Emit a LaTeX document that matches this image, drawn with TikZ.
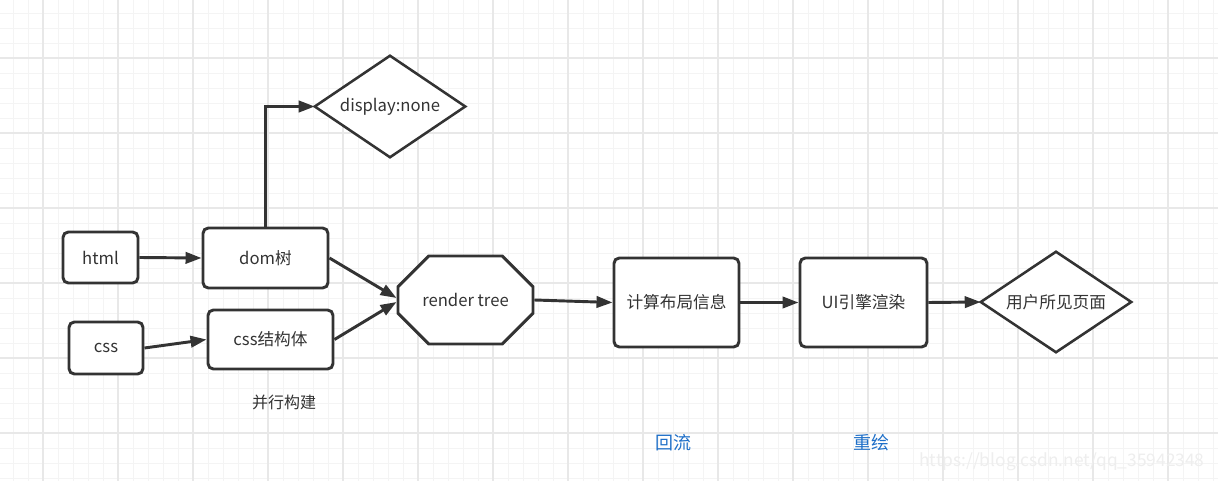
\documentclass[tikz,border=0pt]{standalone}
\usepackage{fontspec}
\setmainfont{Noto Sans CJK SC}
\usetikzlibrary{arrows.meta,shapes.misc}
\definecolor{txt}{HTML}{333333}
\definecolor{edge}{HTML}{333333}
\definecolor{minorgrid}{HTML}{F4F4F4}
\definecolor{majorgrid}{HTML}{E8E8E8}
\definecolor{bluetxt}{HTML}{1E6FC8}
\tikzset{
  box/.style={draw=edge, line width=2.2pt, rounded corners=4pt, fill=white,
    inner sep=0pt, font=\fontsize{12.5}{14}\selectfont, text=txt},
  octbox/.style={draw=edge, line width=2.2pt, chamfered rectangle, fill=white,
    chamfered rectangle xsep=16.5pt, chamfered rectangle ysep=18pt,
    inner sep=0pt, font=\fontsize{12.5}{14}\selectfont, text=txt},
  diabox/.style={draw=none, inner sep=0pt, font=\fontsize{12.5}{14}\selectfont, text=txt},
  diaborder/.style={draw=edge, line width=1.9pt, fill=white, line join=miter},
  conn/.style={draw=edge, line width=2.2pt, -{Triangle[length=12pt,width=8.5pt]}},
  note/.style={inner sep=0pt, text=txt, font=\fontsize{12}{14}\selectfont},
  bluenote/.style={inner sep=0pt, text=bluetxt, font=\fontsize{13.5}{15}\selectfont},
}
\begin{document}
\begin{tikzpicture}[x=0.75pt,y=-0.75pt]
\useasboundingbox (0,0) rectangle (1218,481);
\fill[white] (0,0) rectangle (1218,481);
% grid
\foreach \i in {-2,...,80} {
  \draw[minorgrid, line width=0.6pt] (13+15*\i,0) -- (13+15*\i,481);
}
\foreach \i in {-2,...,32} {
  \draw[minorgrid, line width=0.6pt] (0,13+15*\i) -- (1218,13+15*\i);
}
\foreach \i in {-1,...,16} {
  \draw[majorgrid, line width=0.8pt] (43+75*\i,0) -- (43+75*\i,481);
}
\foreach \i in {-1,...,6} {
  \draw[majorgrid, line width=0.8pt] (0,58+75*\i) -- (1218,58+75*\i);
}

% nodes
\node[box, minimum width=56.25pt, minimum height=38.25pt] (html) at (100.5,257.5) {html};
\node[box, minimum width=93.75pt, minimum height=45pt] (dom) at (265.5,258) {dom树};
\node[box, minimum width=55.5pt, minimum height=39pt] (css) at (106,348) {css};
\node[box, minimum width=93.75pt, minimum height=44.25pt] (cssjg) at (270.5,339.5) {css结构体};
\node[octbox, minimum width=101.25pt, minimum height=66pt] (render) at (465.5,300) {render tree};
\node[box, minimum width=93.75pt, minimum height=66.75pt] (calc) at (676.5,302.5) {计算布局信息};
\node[box, minimum width=95.25pt, minimum height=66.75pt] (ui) at (863.5,302.5) {UI引擎渲染};

\node[diabox, minimum width=112.5pt, minimum height=75.75pt] (disp) at (390,106.5) {};
\draw[diaborder] (disp.north) -- (disp.east) -- (disp.south) -- (disp.west) -- cycle;
\node[diabox] at (disp.center) {display:none};

\node[diabox, minimum width=112.5pt, minimum height=75pt] (user) at (1056,302) {};
\draw[diaborder] (user.north) -- (user.east) -- (user.south) -- (user.west) -- cycle;
\node[diabox] at (user.center) {用户所见页面};

% notes
\node[note] (par) at (284,402) {并行构建};
\node[bluenote] (hl) at (673,443) {回流};
\node[bluenote] (cg) at (871,443) {重绘};
\node[inner sep=0pt, text=gray!13, font=\fontsize{13}{15}\selectfont] (wm) at (1062,462) {https://blog.csdn.net/qq\_35942348};

% connectors
\draw[conn] (html.east) -- (dom.west);
\draw[conn] (dom.north) |- (disp.west);
\draw[conn] (css.east) -- (cssjg.west);
\draw[conn] (dom.east) -- ([yshift=1.5pt]render.west);
\draw[conn] (cssjg.east) -- ([yshift=-1.5pt]render.west);
\draw[conn] (render.east) -- (calc.west);
\draw[conn] (calc.east) -- (ui.west);
\draw[conn] (ui.east) -- (user.west);
\end{tikzpicture}
\end{document}
